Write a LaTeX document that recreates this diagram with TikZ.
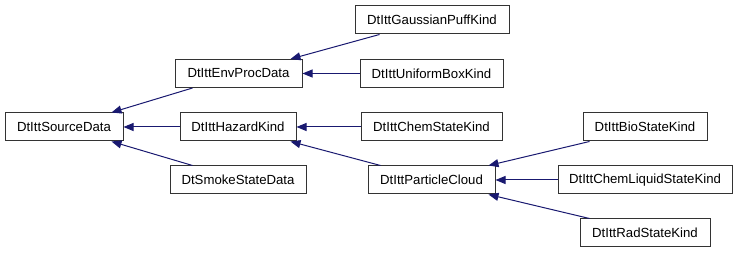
\documentclass[tikz,border=0pt]{standalone}
\usepackage{fontspec}
\setmainfont{Liberation Sans}
\usetikzlibrary{arrows.meta}
\definecolor{edgeblue}{RGB}{25,25,112}
\begin{document}
\begin{tikzpicture}[x=1pt,y=-1pt,
  box/.style={draw=black!80,line width=1pt,fill=white,inner sep=0pt,minimum height=28pt,font=\fontsize{13.2pt}{15pt}\selectfont},
  edge/.style={draw=edgeblue,line width=1pt,{Triangle[length=10pt,width=8pt]}-}]
\useasboundingbox (0,0) rectangle (739,253);
\node[box,minimum width=118pt] (src) at (64,127) {DtIttSourceData};
\node[box,minimum width=127pt] (env) at (238.5,73.5) {DtIttEnvProcData};
\node[box,minimum width=116pt] (haz) at (238,127) {DtIttHazardKind};
\node[box,minimum width=136pt] (smoke) at (238,180) {DtSmokeStateData};
\node[box,minimum width=154pt] (gauss) at (432,20) {DtIttGaussianPuffKind};
\node[box,minimum width=143pt] (unif) at (431.5,73.5) {DtIttUniformBoxKind};
\node[box,minimum width=141pt] (chem) at (431.5,127) {DtIttChemStateKind};
\node[box,minimum width=127pt] (part) at (431.5,180) {DtIttParticleCloud};
\node[box,minimum width=124pt] (bio) at (645,127) {DtIttBioStateKind};
\node[box,minimum width=174pt] (liq) at (645,180) {DtIttChemLiquidStateKind};
\node[box,minimum width=130pt] (rad) at (645,233) {DtIttRadStateKind};
\draw[edge] ([xshift=-12pt]src.north east) -- ([xshift=18pt]env.south west);
\draw[edge] (src.east) -- (haz.west);
\draw[edge] ([xshift=-12pt]src.south east) -- ([xshift=23pt]smoke.north west);
\draw[edge] ([xshift=-12pt]env.north east) -- ([xshift=25pt]gauss.south west);
\draw[edge] (env.east) -- (unif.west);
\draw[edge] (haz.east) -- (chem.west);
\draw[edge] ([xshift=-6pt]haz.south east) -- ([xshift=13pt]part.north west);
\draw[edge] ([xshift=-7pt]part.north east) -- ([xshift=7pt]bio.south west);
\draw[edge] (part.east) -- (liq.west);
\draw[edge] ([xshift=-7pt]part.south east) -- ([xshift=10pt]rad.north west);
\end{tikzpicture}
\end{document}
